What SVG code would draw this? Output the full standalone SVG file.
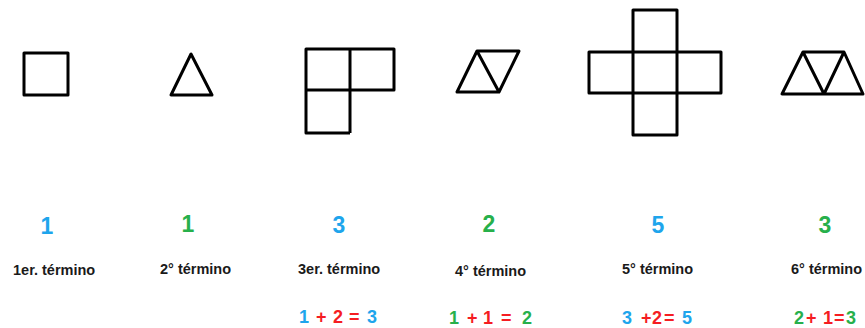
<svg xmlns="http://www.w3.org/2000/svg" width="865" height="328" viewBox="0 0 865 328">
<style>
.s{fill:none;stroke:#000;stroke-width:3;stroke-linejoin:round}
.n{font-family:"Liberation Sans",Arial,sans-serif;font-weight:bold;font-size:23px;text-anchor:middle}
.l{font-family:"Liberation Sans",Arial,sans-serif;font-weight:bold;font-size:14.5px;fill:#1a1a1a}
.e{font-family:"Liberation Sans",Arial,sans-serif;font-weight:bold;font-size:18px}
.b{fill:#1ea5ec}.g{fill:#27b04b}.r{fill:#f51d22}
</style>
<rect width="865" height="328" fill="#fff"/>
<g id="t1">
<rect class="s" x="24" y="53" width="44" height="42"/>
<text class="n b" x="47" y="234">1</text>
<text class="l" x="13" y="275">1er. término</text>
</g>
<g id="t2">
<polygon class="s" points="191,54 171,95 212,95"/>
<text class="n g" x="188" y="232">1</text>
<text class="l" x="160" y="274">2° término</text>
</g>
<g id="t3">
<path class="s" d="M306,49H394V90H306Z M350,49V133 M306,90V133H350"/>
<text class="n b" x="339" y="233">3</text>
<text class="l" x="298" y="274">3er. término</text>
<text class="e" y="323"><tspan class="b" x="299">1</tspan><tspan class="r" x="316">+</tspan><tspan class="r" x="333">2</tspan><tspan class="r" x="349">=</tspan><tspan class="b" x="367">3</tspan></text>
</g>
<g id="t4">
<path class="s" d="M477,51H519L499,92H457Z M477,51L499,92"/>
<text class="n g" x="489" y="232">2</text>
<text class="l" x="455" y="276">4° término</text>
<text class="e" y="324"><tspan class="g" x="449">1</tspan><tspan class="r" x="467">+</tspan><tspan class="r" x="483">1</tspan><tspan class="r" x="501">=</tspan><tspan class="g" x="522">2</tspan></text>
</g>
<g id="t5">
<path class="s" d="M633,10H677V135H633Z M589,52H721V93H589Z"/>
<text class="n b" x="658" y="233">5</text>
<text class="l" x="622" y="274">5° término</text>
<text class="e" y="324"><tspan class="b" x="622">3</tspan><tspan class="r" x="641">+</tspan><tspan class="r" x="652">2</tspan><tspan class="r" x="664">=</tspan><tspan class="b" x="682">5</tspan></text>
</g>
<g id="t6">
<path class="s" d="M782,94H863L844,52H803Z M803,52L824,94L844,52"/>
<text class="n g" x="825" y="233">3</text>
<text class="l" x="791" y="274">6° término</text>
<text class="e" y="324"><tspan class="g" x="794">2</tspan><tspan class="r" x="806">+</tspan><tspan class="r" x="823">1</tspan><tspan class="r" x="834">=</tspan><tspan class="g" x="846">3</tspan></text>
</g>
<g id="connectors"/>
</svg>
